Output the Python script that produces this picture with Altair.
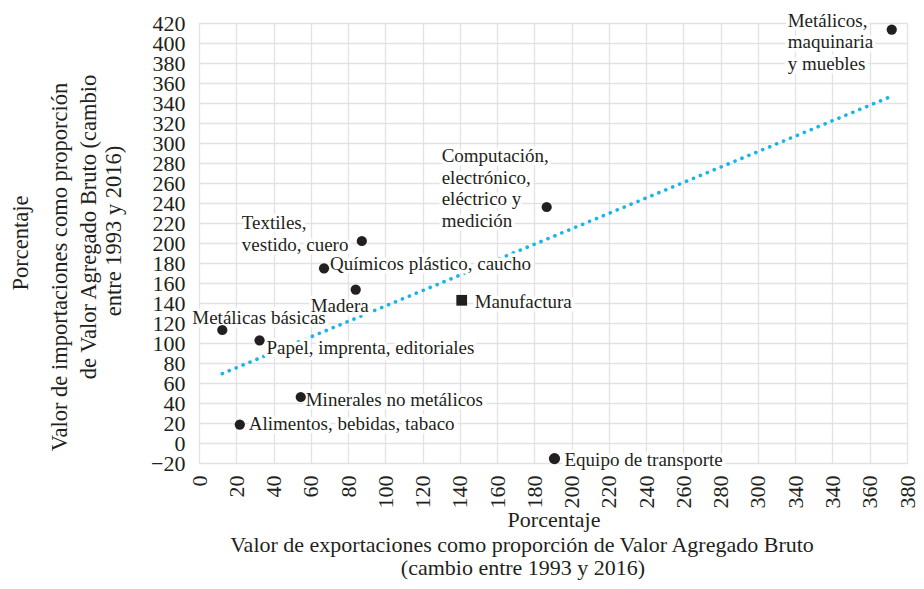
import altair as alt
import pandas as pd

# ---------------- data ----------------
sectors = [
    "Metálicos, maquinaria y muebles",
    "Computación, electrónico, eléctrico y medición",
    "Textiles, vestido, cuero",
    "Químicos plástico, caucho",
    "Madera",
    "Manufactura",
    "Metálicas básicas",
    "Papel, imprenta, editoriales",
    "Minerales no metálicos",
    "Alimentos, bebidas, tabaco",
    "Equipo de transporte",
]
label_text = [
    "Metálicos,\nmaquinaria\ny muebles",
    "Computación,\nelectrónico,\neléctrico y\nmedición",
    "Textiles,\nvestido, cuero",
    "Químicos plástico, caucho",
    "Madera",
    "Manufactura",
    "Metálicas básicas",
    "Papel, imprenta, editoriales",
    "Minerales no metálicos",
    "Alimentos, bebidas, tabaco",
    "Equipo de transporte",
]
export_change = [371.8, 186.6, 87.4, 67.1, 84.1, 141.0, 12.5, 32.5, 54.6, 21.9, 190.8]
import_change = [413.4, 236.0, 202.0, 174.7, 153.4, 142.7, 113.0, 102.7, 46.0, 18.4, -15.6]
marker = ["sector", "sector", "sector", "sector", "sector", "total",
          "sector", "sector", "sector", "sector", "minor"]

trend_x = [12.5, 370.0]
trend_y = [69.4, 345.4]

x_ticks = list(range(0, 381, 20))
x_tick_labels = ["0", "20", "40", "60", "80", "100", "120", "140", "160", "180",
                 "200", "220", "240", "260", "280", "300", "340", "340", "360", "380"]
y_ticks = list(range(-20, 421, 20))

x_title_top = "Porcentaje"
x_title_lines = ["Valor de exportaciones como proporción de Valor Agregado Bruto",
                 "(cambio entre 1993 y 2016)"]
y_title_top = "Porcentaje"
y_title_lines = ["Valor de importaciones como proporción",
                 "de Valor Agregado Bruto (cambio",
                 "entre 1993 y 2016)"]

# ---------------- styling ----------------
FONT = "Liberation Serif"
INK = "#231f20"
GRID = "#e2e2e2"
TREND = "#18b4ea"

df = pd.DataFrame({
    "sector": sectors,
    "label": label_text,
    "exp": export_change,
    "imp": import_change,
    "marker": marker,
})
trend_df = pd.DataFrame({"exp": trend_x, "imp": trend_y})

x_scale = alt.Scale(domain=[0, 380], nice=False, zero=False)
y_scale = alt.Scale(domain=[-20, 420], nice=False, zero=False)

label_expr = "[" + ",".join(f"'{t}'" for t in x_tick_labels) + "][indexof([" + \
    ",".join(str(v) for v in x_ticks) + "], datum.value)]"

x_axis = alt.Axis(values=x_ticks, labelExpr=label_expr, labelAngle=-90,
                  labelFont=FONT, labelFontSize=22, labelColor=INK,
                  labelPadding=12, labelOverlap=False, labelFlush=False,
                  ticks=False, domain=False, grid=True, gridColor=GRID,
                  gridWidth=1.3, title=None)
y_axis = alt.Axis(values=y_ticks, labelFont=FONT, labelFontSize=22,
                  labelColor=INK, labelPadding=14, labelOverlap=False,
                  labelFlush=False, ticks=False, domain=False, grid=True,
                  gridColor=GRID, gridWidth=1.3, title=None)


def X():
    return alt.X("exp:Q", scale=x_scale, axis=x_axis)


def Y():
    return alt.Y("imp:Q", scale=y_scale, axis=y_axis)


base = alt.Chart(df)

trend = alt.Chart(trend_df).mark_line(
    color=TREND, strokeWidth=3.6, strokeDash=[0.1, 7.4], strokeCap="round"
).encode(x=X(), y=Y())

# per-label placement relative to its point (dx, dy in pixels; dy = first line)
label_offsets = {
    "Metálicos, maquinaria y muebles": (-104, -9),
    "Computación, electrónico, eléctrico y medición": (-105, -51),
    "Textiles, vestido, cuero": (-120, -18),
    "Químicos plástico, caucho": (6, -4),
    "Madera": (-45, 16),
    "Manufactura": (13, 2),
    "Metálicas básicas": (-30, -12),
    "Papel, imprenta, editoriales": (7, 8),
    "Minerales no metálicos": (5, 3),
    "Alimentos, bebidas, tabaco": (9, -1),
    "Equipo de transporte": (10, 1),
}

halo_layers = []
text_layers = []
for name in sectors:
    dx, dy = label_offsets[name]
    common = dict(align="left", baseline="middle", dx=dx, dy=dy, font=FONT,
                  fontSize=19, lineBreak="\n", lineHeight=21.5)
    halo_layers.append(
        base.transform_filter(alt.datum.sector == name)
        .mark_text(color="white", stroke="white", strokeWidth=7,
                   strokeJoin="round", **common)
        .encode(x=X(), y=Y(), text="label:N")
    )
    text_layers.append(
        base.transform_filter(alt.datum.sector == name)
        .mark_text(color=INK, **common)
        .encode(x=X(), y=Y(), text="label:N")
    )

points = base.mark_point(filled=True, opacity=1, color=INK).encode(
    x=X(), y=Y(),
    shape=alt.Shape("marker:N", legend=None,
                    scale=alt.Scale(domain=["sector", "total", "minor"],
                                    range=["circle", "square", "circle"])),
    size=alt.Size("marker:N", legend=None,
                  scale=alt.Scale(domain=["sector", "total", "minor"],
                                  range=[105, 125, 22])),
)

# axis titles drawn as text so each line sits where the original puts it
title_df = pd.DataFrame({"t": [0]})


def title_text(text, x, y, angle=0, size=22.5):
    kw = dict(font=FONT, fontSize=size, color=INK, align="center", baseline="middle")
    if angle:
        kw["angle"] = angle
    return alt.Chart(title_df).mark_text(**kw).encode(
        x=alt.value(x), y=alt.value(y), text=alt.value(text))


titles = [
    title_text(y_title_top, -178, 220, 270),
    title_text(y_title_lines[0], -139, 244, 270),
    title_text(y_title_lines[1], -110, 204, 270),
    title_text(y_title_lines[2], -85, 208, 270),
    title_text(x_title_top, 355, 497, size=22),
    title_text(x_title_lines[0], 323, 522, size=22),
    title_text(x_title_lines[1], 324, 545, size=22),
]

chart = alt.layer(trend, *halo_layers, *text_layers, points, *titles).properties(
    width=708, height=440,
    autosize=alt.AutoSizeParams(type="none"),
    padding={"left": 191, "top": 15, "right": 9, "bottom": 118},
).configure_view(stroke=None).configure(background="white")

chart.save("out.html", embed_options={"renderer": "svg", "actions": False})
